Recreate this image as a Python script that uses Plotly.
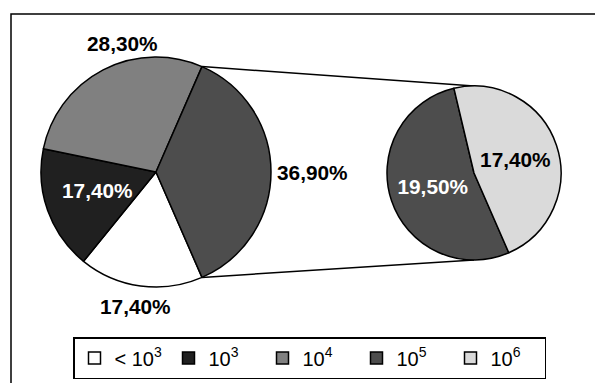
import math
import plotly.graph_objects as go

# ---- data ----
categories = ["&lt; 10<sup>3</sup>", "10<sup>3</sup>", "10<sup>4</sup>", "10<sup>5</sup>", "10<sup>6</sup>"]
shares = [17.4, 17.4, 28.3, 19.5, 17.4]          # percent of total
colors = ["#ffffff", "#202020", "#808080", "#4d4d4d", "#dadada"]
split_at = 3                                      # last two categories go to the secondary pie

W, H = 595, 383
FONT = "Liberation Sans, Arial"
LBL = 20.8

def fmt(v):
    return f"{v:.2f}%".replace(".", ",")

main_labels = categories[:split_at] + [categories[split_at]]
other_total = round(sum(shares[split_at:]), 2)
main_values = shares[:split_at] + [other_total]
main_colors = colors[:split_at] + [colors[split_at]]
sec_labels = categories[split_at:]
sec_values = shares[split_at:]
sec_colors = colors[split_at:]

# pixel boxes for the pies (left, top, right, bottom)
main_box = (41, 57, 271, 287)
sec_box = (387, 86, 561, 260)

def dom(box):
    l, t, r, b = box
    return dict(x=[l / W, r / W], y=[1 - b / H, 1 - t / H])

other_frac = other_total / sum(main_values)
half = other_frac * 180.0
rotation = 90 + half  # clockwise from 12 o'clock

fig = go.Figure()
fig.add_trace(go.Pie(
    labels=main_labels, values=main_values, sort=False, direction="clockwise",
    rotation=rotation, domain=dom(main_box),
    marker=dict(colors=main_colors, line=dict(color="#000000", width=1.5)),
    textinfo="none", hoverinfo="skip", showlegend=True,
))
fig.add_trace(go.Pie(
    labels=sec_labels, values=sec_values, sort=False, direction="clockwise",
    rotation=rotation, domain=dom(sec_box),
    marker=dict(colors=sec_colors, line=dict(color="#000000", width=1.5)),
    text=[fmt(v) for v in sec_values], texttemplate="<b>%{text}</b>",
    textposition="inside",
    textfont=dict(family=FONT, size=LBL, color=["#ffffff", "#000000"]),
    insidetextorientation="horizontal", hoverinfo="skip", showlegend=True,
))

# data labels of the main pie (placed around the pie)
label_pos = [(135, 306), (97, 191), (122, 43), (312, 172)]
label_col = ["#000000", "#ffffff", "#000000", "#000000"]
annotations = []
for v, (px, py), c in zip(main_values, label_pos, label_col):
    annotations.append(dict(xref="paper", yref="paper", x=px / W, y=1 - py / H,
                            text=f"<b>{fmt(v)}</b>", showarrow=False,
                            xanchor="center", yanchor="middle",
                            font=dict(family=FONT, size=LBL, color=c)))

# connector lines
l, t, r, b = main_box
mcx, mcy, mr = (l + r) / 2, (t + b) / 2, (r - l) / 2
l2, t2, r2, b2 = sec_box
scx, scy, sr = (l2 + r2) / 2, (t2 + b2) / 2, (r2 - l2) / 2
ang = math.radians(half)
shapes = []
for s in (1, -1):
    x0 = mcx + mr * math.cos(ang)
    y0 = mcy - s * mr * math.sin(ang)
    x1 = scx
    y1 = scy - s * sr
    shapes.append(dict(type="line", xref="paper", yref="paper",
                       x0=x0 / W, y0=1 - y0 / H, x1=x1 / W, y1=1 - y1 / H,
                       line=dict(color="#000000", width=1.5), layer="below"))
# chart frame (partially outside the view)
shapes.append(dict(type="rect", xref="paper", yref="paper",
                   x0=11 / W, y0=-0.05, x1=1.05, y1=1 - 14 / H,
                   line=dict(color="#000000", width=1.5)))

fig.update_layout(
    width=W, height=H, margin=dict(l=0, r=0, t=0, b=0),
    paper_bgcolor="#ffffff", plot_bgcolor="#ffffff",
    shapes=shapes, annotations=annotations,
    font=dict(family=FONT, size=20, color="#000000"),
    legend=dict(orientation="h", x=73 / W, y=1 - 379 / H, xanchor="left", yanchor="bottom",
                bordercolor="#000000", borderwidth=1.5, bgcolor="#ffffff",
                entrywidth=49, itemwidth=30, traceorder="normal",
                font=dict(family=FONT, size=20, color="#000000")),
)

fig.write_html("out.html")
